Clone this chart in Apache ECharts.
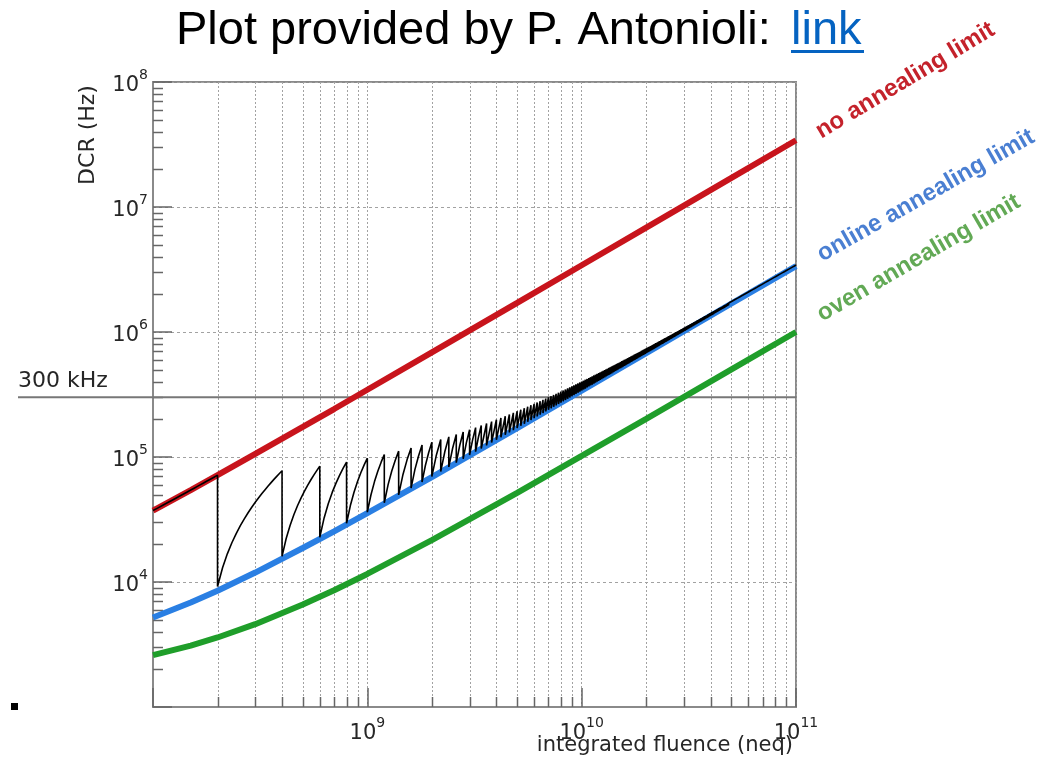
<!DOCTYPE html>
<html>
<head>
<meta charset="utf-8">
<title>DCR vs integrated fluence</title>
<script src="https://cdn.jsdelivr.net/npm/echarts@6/dist/echarts.min.js"></script>
<style>
  html, body { margin: 0; padding: 0; background: #fff; }
  #chart { width: 1047px; height: 762px; }
</style>
</head>
<body>
<div id="chart"></div>
<script>
// Integrated fluence sample points (neq)
const fluence = [1e8, 1.5e8, 2e8, 3e8, 5e8, 7e8, 1e9, 2e9, 5e9, 1e10, 2e10, 5e10, 1e11];
// Dark count rate (Hz) of the three limit curves at those fluences
const noAnnealing = [3.73e4, 5.44e4, 7.15e4, 1.06e5, 1.74e5, 2.42e5, 3.45e5, 6.87e5, 1.71e6, 3.42e6, 6.84e6, 1.71e7, 3.42e7];
const onlineAnnealing = [5.2e3, 6.85e3, 8.5e3, 1.19e4, 1.87e4, 2.54e4, 3.55e4, 6.9e4, 1.7e5, 3.39e5, 6.76e5, 1.69e6, 3.37e6];
const ovenAnnealing = [2.6e3, 3.1e3, 3.6e3, 4.6e3, 6.6e3, 8.6e3, 1.16e4, 2.16e4, 5.16e4, 1.02e5, 2.02e5, 5.02e5, 1.0e6];

// Online annealing cycle: one anneal every annealStep of fluence,
// after each anneal the rate is back just above the online limit
const annealStep = 2e8;
const residualAfterAnneal = 7e2;

// Threshold line
const thresholdDCR = 3e5;

// Axis ranges
const X_MIN = 1e8, X_MAX = 1e11;
const Y_MIN = 1e3, Y_MAX = 1e8;

// Minor decade ticks (2..9 x 10^n)
const xMinorTicks = [2e8,3e8,4e8,5e8,6e8,7e8,8e8,9e8, 2e9,3e9,4e9,5e9,6e9,7e9,8e9,9e9, 2e10,3e10,4e10,5e10,6e10,7e10,8e10,9e10];
const yMinorTicks = [2e3,3e3,4e3,5e3,6e3,7e3,8e3,9e3, 2e4,3e4,4e4,5e4,6e4,7e4,8e4,9e4,
                     2e5,3e5,4e5,5e5,6e5,7e5,8e5,9e5, 2e6,3e6,4e6,5e6,6e6,7e6,8e6,9e6,
                     2e7,3e7,4e7,5e7,6e7,7e7,8e7,9e7];

const pairs = (xs, ys) => xs.map((x, i) => [x, ys[i]]);

// log-log lookup in the online limit readings
function onlineAt(x) {
  const lx = Math.log10(x);
  for (let i = 0; i < fluence.length - 1; i++) {
    const a = Math.log10(fluence[i]), b = Math.log10(fluence[i + 1]);
    if (lx >= a && lx <= b) {
      const t = (lx - a) / (b - a);
      return Math.pow(10, Math.log10(onlineAnnealing[i]) * (1 - t) + Math.log10(onlineAnnealing[i + 1]) * t);
    }
  }
  return onlineAnnealing[onlineAnnealing.length - 1];
}

// DCR growth rate between anneals, from the no-annealing curve
const growth = (noAnnealing[noAnnealing.length - 1] - noAnnealing[0]) / (fluence[fluence.length - 1] - fluence[0]);

// Sawtooth of the operated sensor
const operated = [];
(function buildOperated() {
  let start = X_MIN, level = noAnnealing[0];
  while (start < X_MAX - 1) {
    const end = Math.min(X_MAX, (Math.floor(start / annealStep + 1e-9) + 1) * annealStep);
    const segs = Math.max(1, Math.round(60 * Math.log10(end / start)));
    for (let s = 0; s <= segs; s++) {
      const x = start + (end - start) * s / segs;
      operated.push([x, level + growth * (x - start)]);
    }
    start = end;
    if (start < X_MAX - 1) level = onlineAt(start) + residualAfterAnneal;
  }
})();

const GRID_COLOR = '#a2a2a2';
const FRAME_COLOR = '#8a8a8a';
const TEXT_FONT = '"DejaVu Sans", sans-serif';

function powLabel(hideExp) {
  return function (v) {
    const e = Math.round(Math.log10(v));
    if (e === hideExp) return '';
    return '{b|10}{e|' + e + '}';
  };
}
const labelRich = {
  b: { fontSize: 21, fontFamily: TEXT_FONT, color: '#262626', lineHeight: 28, verticalAlign: 'bottom' },
  e: { fontSize: 14, fontFamily: TEXT_FONT, color: '#262626', lineHeight: 15, verticalAlign: 'top' }
};

const chart = echarts.init(document.getElementById('chart'), null, { renderer: 'canvas' });

chart.setOption({
  animation: false,
  backgroundColor: '#ffffff',
  grid: {
    left: 153, top: 82, width: 643, height: 625,
    show: true, borderColor: FRAME_COLOR, borderWidth: 2, backgroundColor: 'transparent',
    containLabel: false, outerBoundsMode: 'none'
  },
  xAxis: {
    type: 'log', logBase: 10, min: X_MIN, max: X_MAX,
    axisLine: { show: true, lineStyle: { color: FRAME_COLOR, width: 2 } },
    axisTick: { show: true, inside: true, length: 19, lineStyle: { color: '#666', width: 1.5 } },
    axisLabel: { formatter: powLabel(8), rich: labelRich, margin: 9, showMinLabel: true, showMaxLabel: true },
    splitLine: { show: true, lineStyle: { color: GRID_COLOR, width: 1, type: [2, 2] } }
  },
  yAxis: {
    type: 'log', logBase: 10, min: Y_MIN, max: Y_MAX,
    axisLine: { show: true, lineStyle: { color: FRAME_COLOR, width: 2 } },
    axisTick: { show: true, inside: true, length: 19, lineStyle: { color: '#666', width: 1.5 } },
    axisLabel: { formatter: powLabel(3), rich: labelRich, margin: 5, showMinLabel: true, showMaxLabel: true },
    splitLine: { show: true, lineStyle: { color: GRID_COLOR, width: 1, type: [3, 3] } }
  },
  graphic: [
    { type: 'text', x: 176, y: 31, style: { text: 'Plot provided by P. Antonioli: ', font: '47px "Liberation Sans", Arial, sans-serif', fill: '#000', verticalAlign: 'middle' } },
    { type: 'text', x: 791, y: 31, style: { text: 'link', font: '47px "Liberation Sans", Arial, sans-serif', fill: '#0563C1', verticalAlign: 'middle' } },
    { type: 'rect', shape: { x: 791, y: 50, width: 73, height: 3 }, style: { fill: '#0563C1' } },
    { type: 'text', x: 88, y: 135, rotation: Math.PI / 2, style: { text: 'DCR (Hz)', font: '22px ' + TEXT_FONT, fill: '#262626', align: 'center', verticalAlign: 'middle' } },
    { type: 'text', x: 793, y: 746, style: { text: 'integrated fluence (neq)', font: '21px ' + TEXT_FONT, fill: '#262626', align: 'right', verticalAlign: 'middle' } },
    { type: 'rect', shape: { x: 11, y: 703, width: 7, height: 7 }, style: { fill: '#000' } },
    { type: 'text', x: 822, y: 140, rotation: 31 * Math.PI / 180, style: { text: 'no annealing limit', x: 0, y: -8, font: 'bold 24px "Liberation Sans", Arial, sans-serif', fill: '#c4222b', verticalAlign: 'middle' } },
    { type: 'text', x: 823, y: 263, rotation: 29.5 * Math.PI / 180, style: { text: 'online annealing limit', x: 0, y: -8, font: 'bold 24px "Liberation Sans", Arial, sans-serif', fill: '#4a7fd2', verticalAlign: 'middle' } },
    { type: 'text', x: 823, y: 323, rotation: 30.2 * Math.PI / 180, style: { text: 'oven annealing limit', x: 0, y: -8, font: 'bold 24px "Liberation Sans", Arial, sans-serif', fill: '#62a955', verticalAlign: 'middle' } }
  ],
  series: [
    {
      // minor vertical grid lines and bottom minor ticks
      type: 'custom', coordinateSystem: 'cartesian2d', silent: true, z: 1,
      data: xMinorTicks.map(v => [v, Y_MIN]),
      renderItem: (params, api) => {
        const top = api.coord([api.value(0), Y_MAX]);
        const bot = api.coord([api.value(0), Y_MIN]);
        const x = Math.round(bot[0]) + 0.5;
        return {
          type: 'group', children: [
            { type: 'line', shape: { x1: x, y1: top[1], x2: x, y2: bot[1] }, style: { stroke: GRID_COLOR, lineWidth: 1, lineDash: [2, 2] } },
            { type: 'line', shape: { x1: x, y1: bot[1], x2: x, y2: bot[1] - 10 }, style: { stroke: '#666', lineWidth: 1.5 } }
          ]
        };
      }
    },
    {
      // left minor ticks
      type: 'custom', coordinateSystem: 'cartesian2d', silent: true, z: 1,
      data: yMinorTicks.map(v => [X_MIN, v]),
      renderItem: (params, api) => {
        const p = api.coord([X_MIN, api.value(1)]);
        const y = Math.round(p[1]) + 0.5;
        return { type: 'line', shape: { x1: p[0], y1: y, x2: p[0] + 10, y2: y }, style: { stroke: '#666', lineWidth: 1.5 } };
      }
    },
    {
      // 300 kHz threshold
      type: 'custom', coordinateSystem: 'cartesian2d', silent: true, z: 2, clip: false,
      data: [[X_MAX, thresholdDCR]],
      renderItem: (params, api) => {
        const p = api.coord([api.value(0), api.value(1)]);
        return {
          type: 'group', children: [
            { type: 'line', shape: { x1: 18, y1: p[1], x2: p[0], y2: p[1] }, style: { stroke: '#777', lineWidth: 2 } },
            { type: 'text', x: 18, y: p[1] - 16, style: { text: '300 kHz', font: '22px ' + TEXT_FONT, fill: '#262626', verticalAlign: 'middle' } }
          ]
        };
      }
    },
    {
      name: 'no annealing limit', type: 'line', z: 3, symbol: 'none', smooth: false,
      data: pairs(fluence, noAnnealing),
      lineStyle: { color: '#c8141c', width: 6 }
    },
    {
      name: 'online annealing limit', type: 'line', z: 3, symbol: 'none', smooth: false,
      data: pairs(fluence, onlineAnnealing),
      lineStyle: { color: '#2a7fe3', width: 6 }
    },
    {
      name: 'oven annealing limit', type: 'line', z: 3, symbol: 'none', smooth: false,
      data: pairs(fluence, ovenAnnealing),
      lineStyle: { color: '#1f9e2a', width: 6 }
    },
    {
      name: 'operated', type: 'line', z: 4, symbol: 'none', smooth: false, sampling: null,
      data: operated,
      lineStyle: { color: '#000', width: 1.6 }
    }
  ]
});
</script>
</body>
</html>
